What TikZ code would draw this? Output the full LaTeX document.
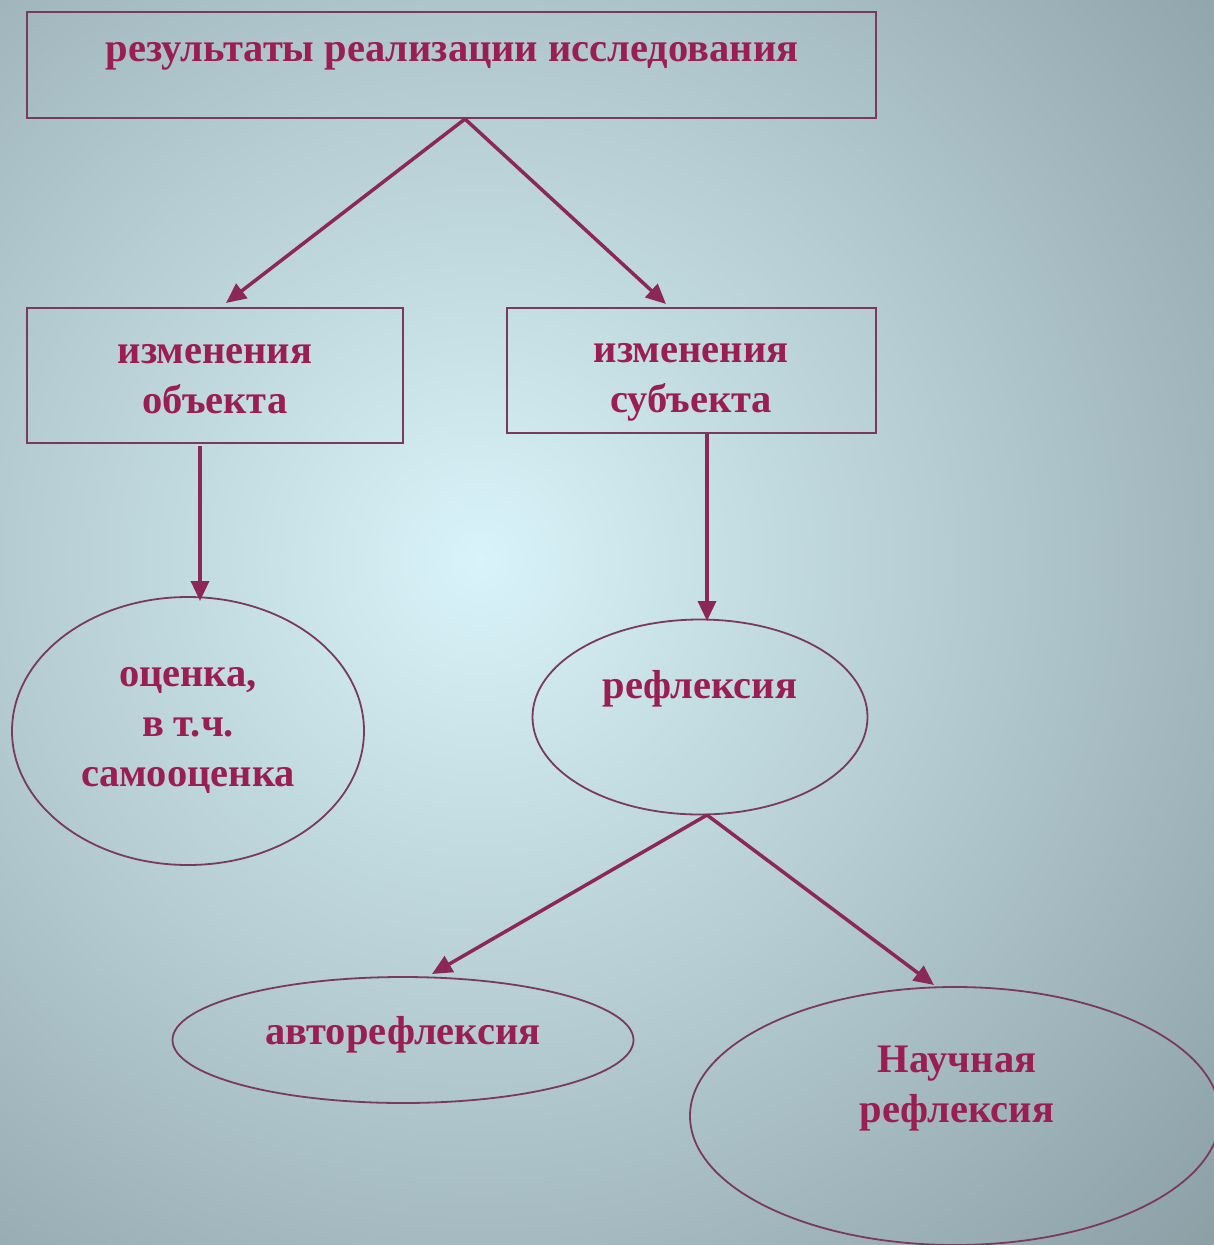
\documentclass[tikz,border=0pt]{standalone}
\usepackage{fontspec}
\setmainfont{Liberation Serif}
\usetikzlibrary{arrows.meta,shapes.geometric}
\definecolor{txtc}{HTML}{9A1E52}
\definecolor{linec}{HTML}{7A3A5E}
\definecolor{arrc}{HTML}{8C2858}
\definecolor{bgin}{HTML}{D8F3F9}
\definecolor{bgout}{HTML}{889CA2}
\begin{document}
\begin{tikzpicture}[x=1pt,y=-1pt,
  lbl/.style={text=txtc,font=\bfseries\fontsize{40.5}{50}\selectfont,align=center},
  boxn/.style={draw=linec,line width=1.8pt,inner sep=0pt},
  ell/.style={draw=linec,line width=1.8pt,ellipse,inner sep=0pt},
  arr/.style={draw=arrc,line width=3.5pt,-{Triangle[length=20pt,width=18pt]}}]
\useasboundingbox (0,0) rectangle (1214,1245);
\begin{scope}
\clip (0,0) rectangle (1214,1245);
\shade[inner color=bgin,outer color=bgout] (480,560) circle[radius=1050];
\end{scope}
% boxes
\node[boxn,minimum width=849pt,minimum height=106pt] (top) at (451.5,65) {};
\node[lbl] at (452,56) {результаты реализации исследования};
\node[boxn,minimum width=376pt,minimum height=135pt] (lb) at (215,375.5) {};
\node[lbl] at (215,379) {изменения\\объекта};
\node[boxn,minimum width=369pt,minimum height=125pt] (rb) at (691.5,370.5) {};
\node[lbl] at (691,382) {изменения\\субъекта};
% ellipses
\node[ell,minimum width=352pt,minimum height=268pt] (e1) at (188,731) {};
\node[lbl] at (188,730) {оценка,\\в т.ч.\\самооценка};
\node[ell,minimum width=335pt,minimum height=195pt] (e2) at (700,717) {};
\node[lbl] at (700,689) {рефлексия};
\node[ell,minimum width=461pt,minimum height=126pt] (e3) at (403,1040) {};
\node[lbl] at (403,1035) {авторефлексия};
\node[ell,minimum width=530pt,minimum height=258pt] (e4) at (955,1116) {};
\node[lbl] at (957,1089) {Научная\\рефлексия};
% connector anchors
\coordinate (t1) at (465,119);
\coordinate (l1) at (226,303);
\coordinate (r1) at (666,304);
\coordinate (lb1) at (200,446);
\coordinate (e1t) at (200,601);
\coordinate (rb1) at (707,434);
\coordinate (e2t) at (707,621);
\coordinate (e2b) at (707,815);
\coordinate (e3t) at (432,974);
\coordinate (e4t) at (934,985);
\draw[arr] (t1) -- (l1);
\draw[arr] (t1) -- (r1);
\draw[arr] (lb1) -- (e1t);
\draw[arr] (rb1) -- (e2t);
\draw[arr] (e2b) -- (e3t);
\draw[arr] (e2b) -- (e4t);
\end{tikzpicture}
\end{document}
